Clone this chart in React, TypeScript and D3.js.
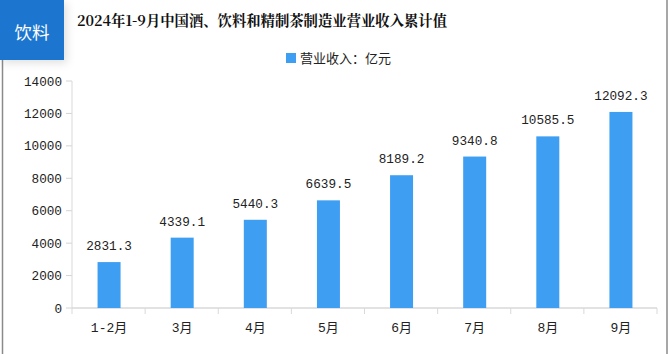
import React from "react";
import * as d3 from "d3";

const categories = ["1-2月", "3月", "4月", "5月", "6月", "7月", "8月", "9月"];
const revenue = [2831.3, 4339.1, 5440.3, 6639.5, 8189.2, 9340.8, 10585.5, 12092.3];
const yTicks = [0, 2000, 4000, 6000, 8000, 10000, 12000, 14000];
const title = "2024年1-9月中国酒、饮料和精制茶制造业营业收入累计值";
const badge = "饮料";
const legendLabel = "营业收入：亿元";

const W = 669;
const H = 354;
const left = 72;
const right = 657;
const top = 81;
const bottom = 308;
const monoFont = "'Liberation Mono', 'Noto Sans CJK SC', monospace";
const cjkFont = "'Noto Sans CJK SC', sans-serif";

export default function App() {
  const x = d3.scaleBand<string>().domain(categories).range([left, right]).paddingInner(0).paddingOuter(0);
  const y = d3.scaleLinear().domain([0, 14000]).range([bottom, top]);
  const bw = 23;
  return (
    <svg width={W} height={H} style={{ position: "absolute", left: 0, top: 0, background: "#fff" }}>
      <defs>
        <filter id="sh" x="-20%" y="-20%" width="160%" height="160%">
          <feDropShadow dx="3" dy="3" stdDeviation="4" floodColor="#000" floodOpacity="0.12" />
        </filter>
      </defs>
      <rect x={0} y={0} width={W} height={H} fill="#fff" />
      <line x1={2.5} x2={2.5} y1={0} y2={H} stroke="#8a8a8a" strokeWidth={1.5} />
      <line x1={667} x2={667} y1={0} y2={H} stroke="#8a8a8a" strokeWidth={1.5} />
      <rect x={0} y={0} width={64} height={60} fill="#1f74cf" filter="url(#sh)" />
      <text x={32} y={39} textAnchor="middle" fill="#fff" fontSize={17.5} fontFamily={cjkFont}>{badge}</text>
      <text x={77} y={26} fill="#111" fontSize={14.5} fontWeight="bold" fontFamily={"'Noto Serif CJK SC', 'Noto Sans CJK SC', serif"} textLength={370} lengthAdjust="spacingAndGlyphs">{title}</text>
      <rect x={286} y={53} width={10} height={10} fill="#3d9ef2" />
      <text x={300} y={62.5} fill="#222" fontSize={13} fontFamily={cjkFont}>{legendLabel}</text>
      {yTicks.map((t) => (
        <g key={t}>
          <line x1={66} x2={left} y1={y(t)} y2={y(t)} stroke="#d4d4d4" />
          <text x={62} y={y(t) + 4.5} textAnchor="end" fill="#222" fontSize={12.7} fontFamily={monoFont}>{t}</text>
        </g>
      ))}
      <line x1={left} x2={left} y1={y(14000)} y2={bottom + 6} stroke="#d9d9d9" />
      <line x1={left} x2={right} y1={bottom} y2={bottom} stroke="#d9d9d9" strokeWidth={1.5} />
      {categories.map((c, i) => (
        <line key={"t" + i} x1={x(c)! + x.bandwidth()} x2={x(c)! + x.bandwidth()} y1={bottom} y2={bottom + 6} stroke="#d9d9d9" />
      ))}
      {categories.map((c, i) => {
        const cx = x(c)! + x.bandwidth() / 2 + 0.5;
        return (
          <g key={c}>
            <rect x={cx - bw / 2} y={y(revenue[i])} width={bw} height={bottom - y(revenue[i])} fill="#3d9ef2" />
            <text x={cx} y={y(revenue[i]) - 12} textAnchor="middle" fill="#222" fontSize={12.7} fontFamily={monoFont}>{revenue[i].toFixed(1)}</text>
            <text x={cx} y={332} textAnchor="middle" fill="#222" fontSize={13} fontFamily={monoFont}>{c}</text>
          </g>
        );
      })}
    </svg>
  );
}
